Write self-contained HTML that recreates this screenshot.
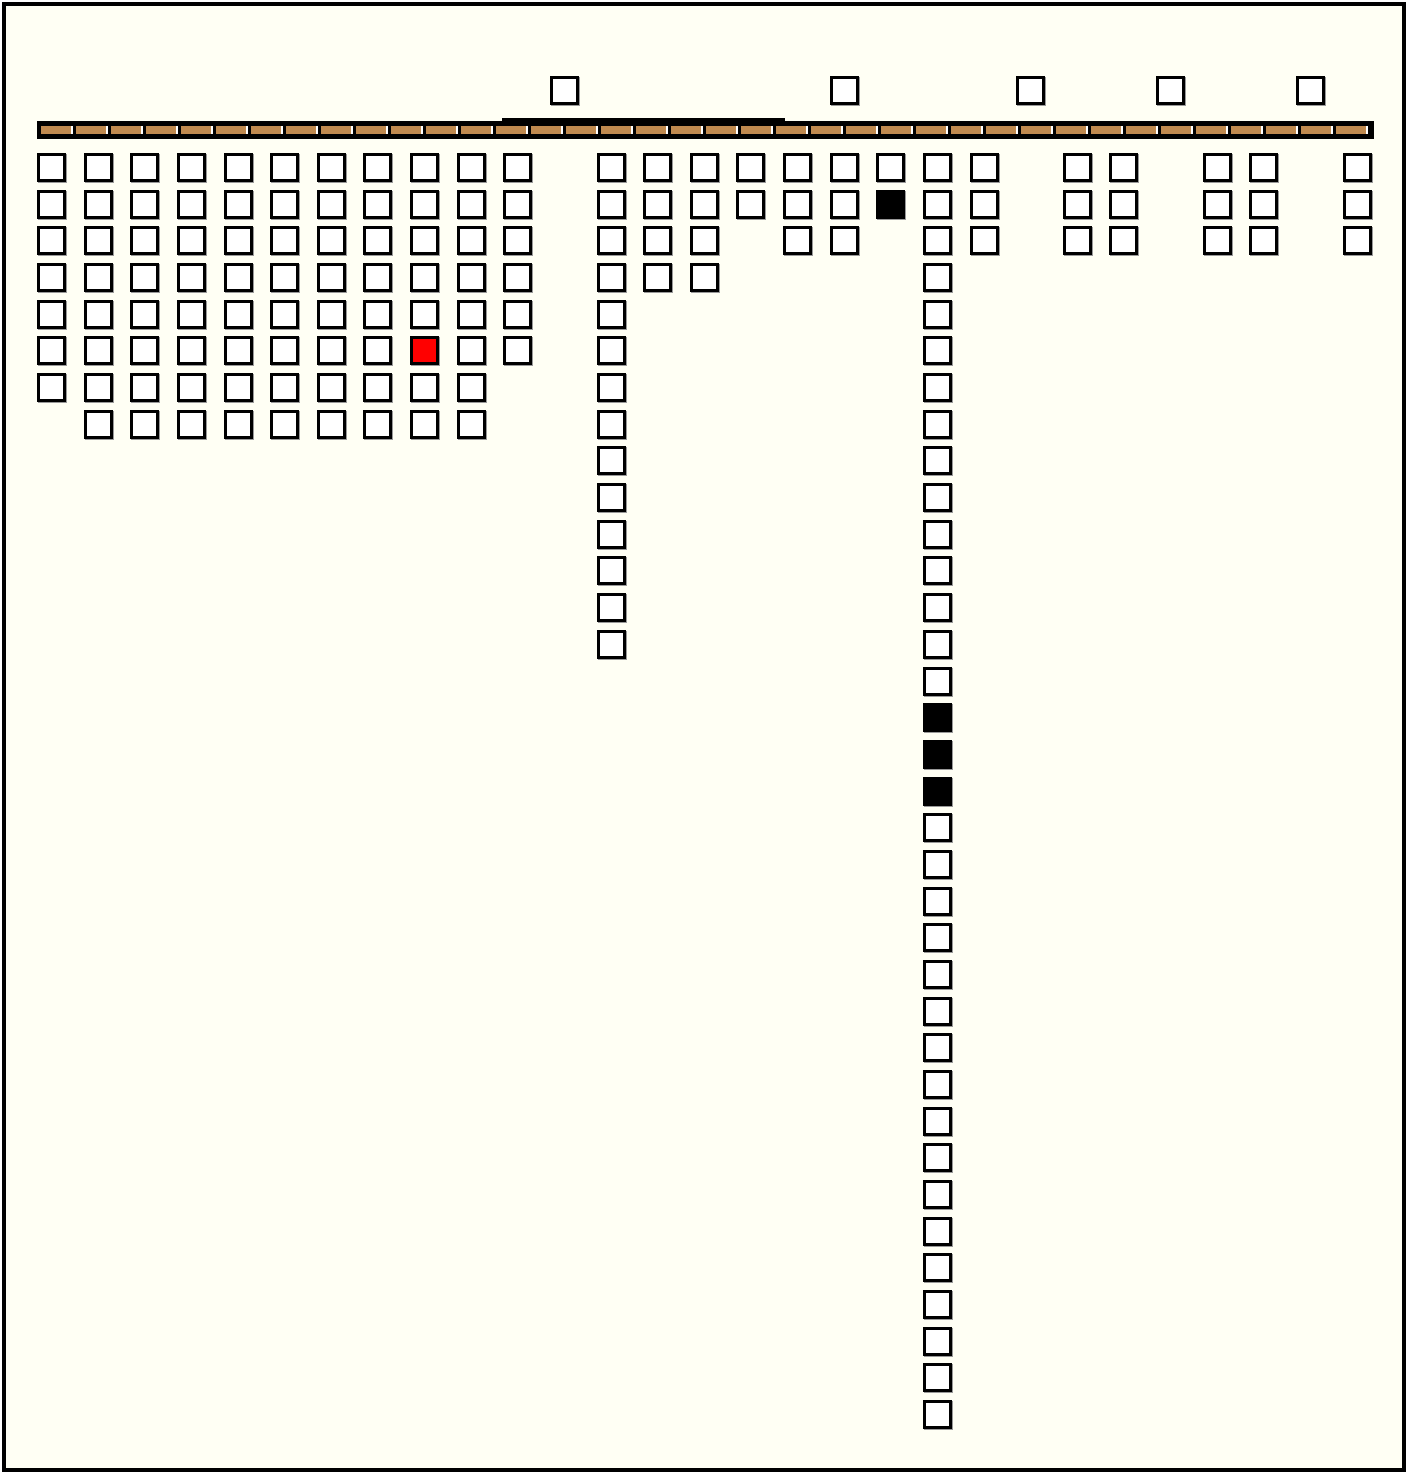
<!DOCTYPE html>
<html><head><meta charset="utf-8"><style>
html,body{margin:0;padding:0;background:#fff;}
#c{position:relative;width:1408px;height:1475px;overflow:hidden;background:#fff;}
#frame{position:absolute;left:2px;top:2px;width:1404px;height:1470px;box-sizing:border-box;border:4px solid #000;background:#fffff4;}
.s{position:absolute;width:29px;height:29px;box-sizing:border-box;border:3px solid #000;background:#fff;box-shadow:1px 1px 0 #999;}
.b{background:#000;}
.r{background:#f00;}
#bar{position:absolute;left:37px;top:121px;width:1337px;height:18px;background:#000;}
#bari{position:absolute;left:4px;top:5px;right:4px;height:8px;
background:repeating-linear-gradient(90deg,#c08a4f 0,#c08a4f 30px,#fff 30px,#fff 32px,#000 32px,#000 35px);}
#mid{position:absolute;left:502px;top:118px;width:283px;height:5px;background:#000;}
</style></head><body><div id="c"><div id="frame"></div>
<div id="mid"></div><div id="bar"><div id="bari"></div></div>
<div id="sq"></div></div>
<script>
var px=37,pw=46.63,py=153,ph=36.68,h='';
function sq(x,y,c){h+='<div class="s '+(c||'')+'" style="left:'+Math.round(x)+'px;top:'+Math.round(y)+'px"></div>';}
[550,830,1016,1156,1296].forEach(function(x){sq(x,76);});
var cols={0:7,1:8,2:8,3:8,4:8,5:8,6:8,7:8,8:8,9:8,10:6,12:14,13:4,14:4,15:2,16:3,17:3,18:2,19:35,20:3,22:3,23:3,25:3,26:3,28:3};
for(var k in cols){var ci=+k;for(var r=0;r<cols[k];r++){
var c='';if(ci==1&&false){}
if(ci==0&&r>=7)continue;
if(ci==8&&r==5)c='r';
if(ci==18&&r==1)c='b';
if(ci==19&&(r==15||r==16||r==17))c='b';
sq(px+ci*pw,py+r*ph,c);}}
document.getElementById('sq').innerHTML=h;
</script></body></html>
